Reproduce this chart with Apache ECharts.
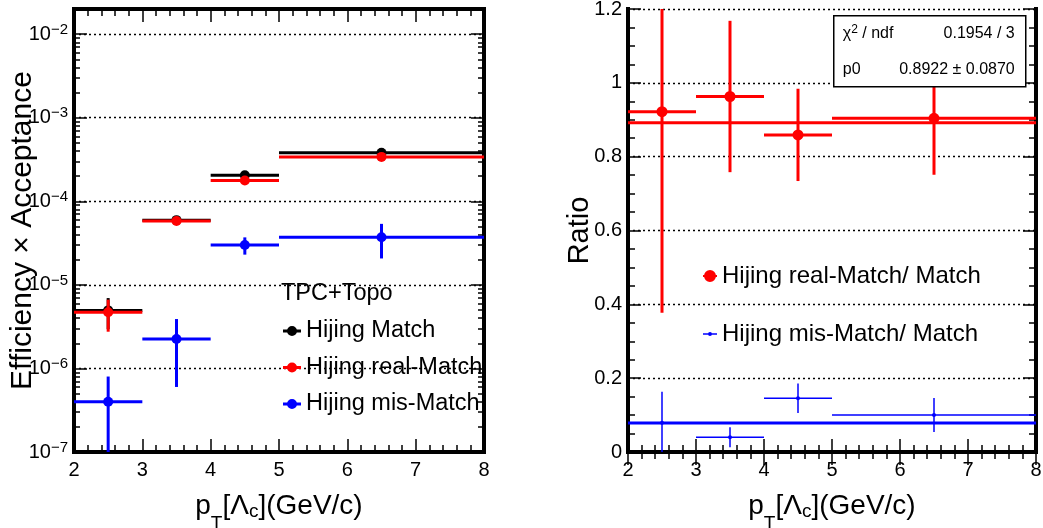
<!DOCTYPE html>
<html>
<head>
<meta charset="utf-8">
<script src="https://cdn.jsdelivr.net/npm/echarts@6/dist/echarts.min.js"></script>
<style>
  html, body { margin: 0; padding: 0; background: #fff; }
  #chart { width: 1043px; height: 528px; }
</style>
</head>
<body>
<div id="chart"></div>
<script>
// pT bins of Lambda_c (GeV/c)
const binLo = [2, 3, 4, 5];
const binHi = [3, 4, 5, 8];
const binCenter = [2.5, 3.5, 4.5, 6.5];

// Efficiency x Acceptance, TPC+Topo selection
const effMatch = [4.95e-6, 5.95e-5, 2.05e-4, 3.8e-4];
const effMatchErr = [2.0e-6, 4.0e-6, 1.0e-5, 1.5e-5];
const effReal = [4.7e-6, 5.8e-5, 1.77e-4, 3.4e-4];
const effRealErr = [1.95e-6, 4.0e-6, 1.0e-5, 1.5e-5];
const effMis = [4.0e-7, 2.25e-6, 3.0e-5, 3.72e-5];
const effMisErr = [4.0e-7, 1.65e-6, 7.0e-6, 1.65e-5];

// ratios to Hijing Match
const ratioReal = [0.922, 0.963, 0.859, 0.904];
const ratioRealErr = [0.545, 0.205, 0.125, 0.153];
const ratioMis = [0.0795, 0.040, 0.1455, 0.1003];
const ratioMisErr = [0.084, 0.027, 0.040, 0.046];

// constant (p0) fits of the ratios
const fitRealP0 = 0.8922;
const fitRealP0Err = 0.0870;
const fitRealChi2 = 0.1954;
const fitRealNdf = 3;
const fitMisP0 = 0.0786;

// decade ticks of the efficiency axis
const logTickValues = [1e-7, 1e-6, 1e-5, 1e-4, 1e-3, 1e-2];

// series names
const leftNames = ['Hijing Match', 'Hijing real-Match', 'Hijing mis-Match'];
const rightNames = ['Hijing real-Match/ Match', 'Hijing mis-Match/ Match'];

const FONT = '"Liberation Sans", Arial, Helvetica, sans-serif';
const BLACK = '#000000', RED = '#ff0000', BLUE = '#0000ff';

const logMinorTicks = [];
for (let e = -7; e <= -2; e++) {
  for (let k = 2; k <= 9; k++) {
    const v = k * Math.pow(10, e);
    if (v < 0.0199) logMinorTicks.push(v);
  }
}

const frameLine = { show: true, lineStyle: { color: BLACK, width: 4, cap: 'square' } };
const dotted = { show: true, lineStyle: { color: BLACK, width: 1.3, type: [2, 3] } };
const majorTick = { show: true, inside: true, length: 13, lineStyle: { color: BLACK, width: 1.5 } };
const minorTickStyle = { show: true, length: 7, lineStyle: { color: BLACK, width: 1.5 } };
const labelStyle = { fontSize: 20, color: BLACK, fontFamily: FONT };

const xTitle = 'p{subT|T}[Λ{subC|c}](GeV/c)';
const xTitleStyle = {
  fontSize: 28, color: BLACK, fontFamily: FONT, lineHeight: 32,
  rich: {
    subT: { fontSize: 19, color: BLACK, fontFamily: FONT, padding: [36, 0, 0, 0] },
    subC: { fontSize: 19, color: BLACK, fontFamily: FONT, padding: [12, 0, 0, 0] }
  }
};

function xAxes(gridIndex) {
  const common = {
    gridIndex, type: 'value', min: binLo[0], max: binHi[binHi.length - 1], interval: 1,
    axisLine: frameLine, axisTick: majorTick,
    minorTick: Object.assign({ splitNumber: 5 }, minorTickStyle),
    splitLine: { show: false }
  };
  return [
    Object.assign({}, common, {
      position: 'bottom',
      axisLabel: Object.assign({ margin: 8 }, labelStyle),
      name: xTitle, nameLocation: 'middle', nameGap: 38, nameMoveOverlap: false,
      nameTextStyle: xTitleStyle
    }),
    Object.assign({}, common, { position: 'top', axisLabel: { show: false } })
  ];
}

function decadeLabel(v) {
  const e = Math.log10(v);
  const r = Math.round(e);
  if (Math.abs(e - r) > 1e-6) return '';
  return '10{sup|' + (r < 0 ? '\u2212' : '') + Math.abs(r) + '}';
}

function logAxis(position, withLabels, ticks, tickLen, showLine) {
  const ax = {
    gridIndex: 0, type: 'log', logBase: 10, min: 1e-7, max: 0.02, position,
    axisLine: showLine ? frameLine : { show: false },
    axisTick: { show: true, inside: true, length: tickLen, customValues: ticks,
                lineStyle: { color: BLACK, width: 1.5 } },
    axisLabel: { show: false },
    splitLine: { show: false }
  };
  if (withLabels) {
    ax.axisLabel = Object.assign({
      show: true, margin: 6, customValues: logTickValues, formatter: decadeLabel,
      rich: { sup: { fontSize: 15, color: BLACK, fontFamily: FONT, padding: [0, 0, 9, 0] } }
    }, labelStyle);
    ax.splitLine = dotted;
    ax.name = 'Efficiency \u00d7 Acceptance';
    ax.nameLocation = 'middle';
    ax.nameGap = 36;
    ax.nameMoveOverlap = false;
    ax.nameTextStyle = { fontSize: 30, color: BLACK, fontFamily: FONT };
  }
  return ax;
}

function ratioAxis(position, withLabels) {
  const ax = {
    gridIndex: 1, type: 'value', min: 0, max: 1.2, interval: 0.2, position,
    axisLine: frameLine, axisTick: majorTick,
    minorTick: Object.assign({ splitNumber: 4 }, minorTickStyle),
    axisLabel: { show: false },
    splitLine: { show: false }
  };
  if (withLabels) {
    ax.axisLabel = Object.assign({ show: true, margin: 6 }, labelStyle);
    ax.splitLine = dotted;
    ax.name = 'Ratio';
    ax.nameLocation = 'middle';
    ax.nameGap = 34;
    ax.nameMoveOverlap = false;
    ax.nameTextStyle = { fontSize: 29, color: BLACK, fontFamily: FONT };
  }
  return ax;
}

// one histogram bin drawn as a marker with horizontal bin-width bar and vertical error bar
function binSeries(name, xAxisIndex, yAxisIndex, values, errors, color, lineWidth, radius) {
  return {
    name, type: 'custom', xAxisIndex, yAxisIndex, z: 5,
    itemStyle: { color },
    data: values.map((v, i) => [binCenter[i], v, binLo[i], binHi[i], errors[i]]),
    encode: { x: [0, 2, 3], y: 1 },
    renderItem(params, api) {
      const xc = api.value(0), y = api.value(1), lo = api.value(2), hi = api.value(3), e = api.value(4);
      const cs = params.coordSys;
      const top = cs.y, bottom = cs.y + cs.height;
      const clampY = (p) => Math.min(bottom, Math.max(top, p));
      const pc = api.coord([xc, y]);
      const pl = api.coord([lo, y]);
      const pr = api.coord([hi, y]);
      const up = clampY(api.coord([xc, y + e])[1]);
      const down = (y - e) > 0 ? clampY(api.coord([xc, y - e])[1]) : bottom;
      const stroke = { stroke: color, lineWidth };
      return {
        type: 'group',
        children: [
          { type: 'line', shape: { x1: pl[0], y1: pc[1], x2: pr[0], y2: pc[1] }, style: stroke },
          { type: 'line', shape: { x1: pc[0], y1: up, x2: pc[0], y2: down }, style: stroke },
          { type: 'circle', shape: { cx: pc[0], cy: pc[1], r: radius }, style: { fill: color } }
        ]
      };
    }
  };
}

function fitSeries(name, p0, color) {
  return {
    name, type: 'line', xAxisIndex: 2, yAxisIndex: 4, z: 3, silent: true,
    showSymbol: false, symbol: 'none',
    data: [[binLo[0], p0], [binHi[binHi.length - 1], p0]],
    lineStyle: { color, width: 3 }, itemStyle: { color }
  };
}

const iconLeft = 'path://M0,3.5H18V6.5H0Z M4,5A5,5 0 1,1 14,5A5,5 0 1,1 4,5Z';
const iconRatioReal = 'path://M0,5H14V7H0Z M1,6A6,6 0 1,1 13,6A6,6 0 1,1 1,6Z';
const iconRatioMis = 'path://M0,5.3H14V6.7H0Z M5,6A2,2 0 1,1 9,6A2,2 0 1,1 5,6Z';

const legendTextLeft = { fontSize: 23.5, color: BLACK, fontFamily: FONT, lineHeight: 24 };
const legendTextRight = { fontSize: 24, color: BLACK, fontFamily: FONT, lineHeight: 24 };

const option = {
  animation: false,
  backgroundColor: '#ffffff',
  grid: [
    { left: 74, top: 9, width: 410, height: 443, containLabel: false, outerBoundsMode: 'none' },
    { left: 628, top: 9, width: 408, height: 443, containLabel: false, outerBoundsMode: 'none' }
  ],
  title: {
    text: 'TPC+Topo', left: 281, top: 282, padding: 0,
    textStyle: { fontSize: 23.5, fontWeight: 'normal', color: BLACK, fontFamily: FONT, lineHeight: 24 }
  },
  legend: [
    {
      orient: 'vertical', left: 283, top: 319, padding: 0, itemGap: 12.5,
      itemWidth: 18, itemHeight: 10, selectedMode: false, textStyle: legendTextLeft,
      data: leftNames.map(n => ({ name: n, icon: iconLeft }))
    },
    {
      orient: 'vertical', left: 703, top: 264, padding: 0, itemGap: 34,
      itemWidth: 14, itemHeight: 12, selectedMode: false, textStyle: legendTextRight,
      data: [{ name: rightNames[0], icon: iconRatioReal }, { name: rightNames[1], icon: iconRatioMis }]
    }
  ],
  xAxis: xAxes(0).concat(xAxes(1)),
  yAxis: [
    logAxis('left', true, logTickValues, 13, true),
    logAxis('left', false, logMinorTicks, 6, false),
    logAxis('right', false, logTickValues, 13, true),
    logAxis('right', false, logMinorTicks, 6, false),
    ratioAxis('left', true),
    ratioAxis('right', false)
  ],
  series: [
    binSeries(leftNames[0], 0, 0, effMatch, effMatchErr, BLACK, 3, 5),
    binSeries(leftNames[1], 0, 0, effReal, effRealErr, RED, 3, 5),
    binSeries(leftNames[2], 0, 0, effMis, effMisErr, BLUE, 3, 5),
    fitSeries('p0 fit real', fitRealP0, RED),
    fitSeries('p0 fit mis', fitMisP0, BLUE),
    binSeries(rightNames[0], 2, 4, ratioReal, ratioRealErr, RED, 3, 5.5),
    binSeries(rightNames[1], 2, 4, ratioMis, ratioMisErr, BLUE, 1.5, 2)
  ],
  graphic: [
    {
      type: 'group', left: 833, top: 15, z: 100,
      children: [
        { type: 'rect', z: 100, shape: { x: 0, y: 0, width: 192, height: 71 },
          style: { fill: '#ffffff', stroke: BLACK, lineWidth: 1.5 } },
        { type: 'text', z: 101, x: 9, y: 18,
          style: { text: '\u03c7{sup|2} / ndf', font: '16px ' + FONT, fill: BLACK, verticalAlign: 'middle',
                   rich: { sup: { fontSize: 12, fontFamily: FONT, fill: BLACK, padding: [0, 0, 8, 0] } } } },
        { type: 'text', z: 101, x: 181, y: 18,
          style: { text: fitRealChi2.toFixed(4) + ' / ' + fitRealNdf, font: '16px ' + FONT, fill: BLACK,
                   align: 'right', verticalAlign: 'middle' } },
        { type: 'text', z: 101, x: 9, y: 54,
          style: { text: 'p0', font: '16px ' + FONT, fill: BLACK, verticalAlign: 'middle' } },
        { type: 'text', z: 101, x: 181, y: 54,
          style: { text: fitRealP0.toFixed(4) + ' \u00b1 ' + fitRealP0Err.toFixed(4), font: '16px ' + FONT,
                   fill: BLACK, align: 'right', verticalAlign: 'middle' } }
      ]
    }
  ]
};

const chart = echarts.init(document.getElementById('chart'), null, { renderer: 'canvas' });
chart.setOption(option);
</script>
</body>
</html>
